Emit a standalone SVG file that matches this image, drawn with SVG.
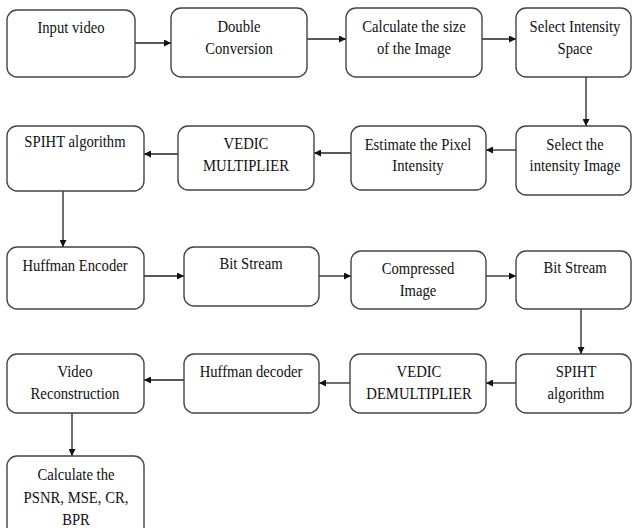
<svg xmlns="http://www.w3.org/2000/svg" width="632" height="528" viewBox="0 0 632 528">
<style>
.box{fill:#fff;stroke:#444;stroke-width:1.4}
.t{font-family:"Liberation Serif","Times New Roman",serif;font-size:16.5px;fill:#111;text-anchor:middle;transform:scaleX(0.89);transform-box:fill-box;transform-origin:center}
.c{stroke:#222;stroke-width:1.3;fill:none;marker-end:url(#ah)}
</style>
<defs>
<marker id="ah" viewBox="0 0 10 10" refX="10" refY="5" markerWidth="7" markerHeight="7" markerUnits="userSpaceOnUse" orient="auto">
<path d="M0,0 L10,5 L0,10 z" fill="#111"/>
</marker>
</defs>
<rect width="632" height="528" fill="#fff"/>
<g id="connectors">
<line class="c" x1="135" y1="43" x2="171" y2="43"/>
<line class="c" x1="307" y1="39" x2="346" y2="39"/>
<line class="c" x1="482" y1="39" x2="516" y2="39"/>
<line class="c" x1="586" y1="77" x2="586" y2="126"/>
<line class="c" x1="516" y1="150" x2="486" y2="150"/>
<line class="c" x1="351" y1="153" x2="314" y2="153"/>
<line class="c" x1="178" y1="154" x2="144" y2="154"/>
<line class="c" x1="63" y1="191" x2="63" y2="247"/>
<line class="c" x1="144" y1="276" x2="184" y2="276"/>
<line class="c" x1="319" y1="276" x2="351" y2="276"/>
<line class="c" x1="486" y1="276" x2="516" y2="276"/>
<line class="c" x1="581" y1="309" x2="581" y2="354"/>
<line class="c" x1="516" y1="383" x2="486" y2="383"/>
<line class="c" x1="350" y1="383" x2="319" y2="383"/>
<line class="c" x1="184" y1="380" x2="144" y2="380"/>
<line class="c" x1="72" y1="413" x2="72" y2="456"/>
</g>
<g id="input-video"><rect class="box" x="7" y="10" width="128" height="67" rx="10"/><text class="t" x="71" y="33">Input video</text></g>
<g id="double-conversion"><rect class="box" x="171" y="8" width="136" height="69" rx="10"/><text class="t" x="239" y="32">Double</text><text class="t" x="239" y="54">Conversion</text></g>
<g id="calculate-size"><rect class="box" x="346" y="8" width="136" height="69" rx="10"/><text class="t" x="414" y="32">Calculate the size</text><text class="t" x="414" y="54">of the Image</text></g>
<g id="select-intensity-space"><rect class="box" x="516" y="8" width="115" height="69" rx="10"/><text class="t" x="575" y="32">Select Intensity</text><text class="t" x="575" y="54">Space</text></g>
<g id="select-intensity-image"><rect class="box" x="516" y="126" width="115" height="69" rx="10"/><text class="t" x="575" y="150">Select the</text><text class="t" x="575" y="171">intensity Image</text></g>
<g id="estimate-pixel"><rect class="box" x="351" y="126" width="135" height="64" rx="10"/><text class="t" x="418" y="150">Estimate the Pixel</text><text class="t" x="418" y="171">Intensity</text></g>
<g id="vedic-multiplier"><rect class="box" x="178" y="126" width="136" height="64" rx="10"/><text class="t" x="246" y="149">VEDIC</text><text class="t" x="246" y="171">MULTIPLIER</text></g>
<g id="spiht-1"><rect class="box" x="7" y="126" width="137" height="65" rx="10"/><text class="t" x="75" y="147">SPIHT algorithm</text></g>
<g id="huffman-encoder"><rect class="box" x="7" y="247" width="137" height="62" rx="10"/><text class="t" x="75" y="271">Huffman Encoder</text></g>
<g id="bit-stream-1"><rect class="box" x="184" y="247" width="135" height="59" rx="10"/><text class="t" x="251" y="269">Bit Stream</text></g>
<g id="compressed-image"><rect class="box" x="351" y="251" width="135" height="58" rx="10"/><text class="t" x="418" y="274">Compressed</text><text class="t" x="418" y="296">Image</text></g>
<g id="bit-stream-2"><rect class="box" x="516" y="251" width="115" height="58" rx="10"/><text class="t" x="575" y="273">Bit Stream</text></g>
<g id="spiht-2"><rect class="box" x="516" y="354" width="115" height="59" rx="10"/><text class="t" x="576" y="377">SPIHT</text><text class="t" x="576" y="399">algorithm</text></g>
<g id="vedic-demultiplier"><rect class="box" x="350" y="354" width="136" height="59" rx="10"/><text class="t" x="419" y="377">VEDIC</text><text class="t" x="419" y="399">DEMULTIPLIER</text></g>
<g id="huffman-decoder"><rect class="box" x="184" y="354" width="135" height="59" rx="10"/><text class="t" x="251" y="377">Huffman decoder</text></g>
<g id="video-reconstruction"><rect class="box" x="7" y="354" width="137" height="59" rx="10"/><text class="t" x="75" y="377">Video</text><text class="t" x="75" y="399">Reconstruction</text></g>
<g id="calculate-metrics"><rect class="box" x="7" y="456" width="137" height="90" rx="10"/><text class="t" x="76" y="480">Calculate the</text><text class="t" x="76" y="503">PSNR, MSE, CR,</text><text class="t" x="76" y="525">BPR</text></g>
</svg>
